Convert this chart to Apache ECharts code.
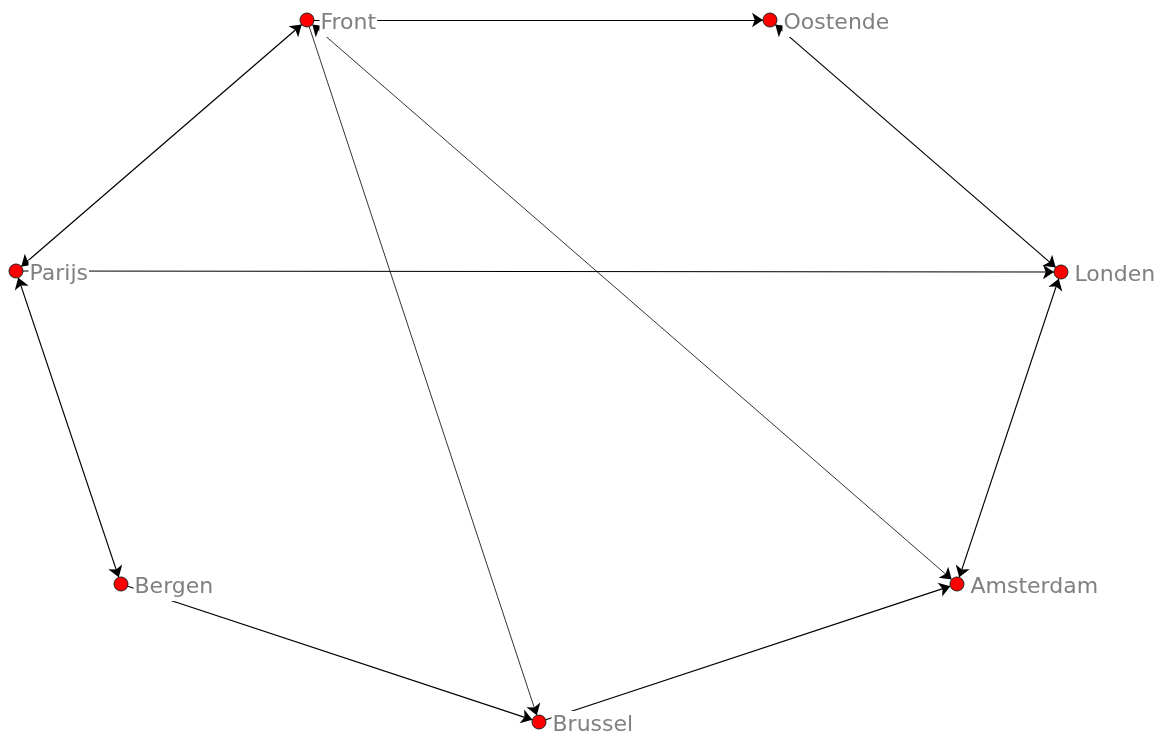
<!DOCTYPE html>
<html>
<head>
<meta charset="utf-8">
<script src="https://cdn.jsdelivr.net/npm/echarts@6/dist/echarts.min.js"></script>
<style>
    html, body { margin: 0; padding: 0; background: #fff; }
    #chartGraph { width: 1160px; height: 738px; }
</style>
</head>
<body>
<div id="chartGraph"></div>
<script>
// 노드
const nodeNames = ['Front', 'Oostende', 'Parijs', 'Londen', 'Bergen', 'Amsterdam', 'Brussel'];
const nodeX = [307, 770, 16, 1061, 121, 957, 539];
const nodeY = [20, 20, 271, 272, 584, 584, 722];

// 연결 (both = 양방향)
const edgeFrom = ['Front', 'Oostende', 'Parijs', 'Parijs', 'Parijs', 'Front', 'Front', 'Londen', 'Bergen', 'Brussel'];
const edgeTo = ['Oostende', 'Londen', 'Front', 'Londen', 'Bergen', 'Brussel', 'Amsterdam', 'Amsterdam', 'Brussel', 'Amsterdam'];
const edgeBoth = [false, true, true, false, true, false, true, true, false, false];
const edgeThin = [false, false, false, false, false, true, true, false, false, false];

const chartDom = document.getElementById('chartGraph');
const graphChart = echarts.init(chartDom);

const nodes = nodeNames.map((name, i) => ({
    name: name,
    value: [nodeX[i], nodeY[i]],
}));

const links = edgeFrom.map((src, i) => ({
    source: src,
    target: edgeTo[i],
    symbol: edgeBoth[i] ? ['arrow', 'arrow'] : ['none', 'arrow'],
    lineStyle: { width: edgeThin[i] ? 0.8 : 1.2 },
}));

let option;
option = {
    animation: false,
    backgroundColor: '#fff',
    grid: { left: 0, right: 0, top: 0, bottom: 0 },
    xAxis: { type: 'value', min: 0, max: 1160, show: false },
    yAxis: { type: 'value', min: 0, max: 738, inverse: true, show: false },
    series: [
        {
            type: 'graph',
            coordinateSystem: 'cartesian2d',
            layout: 'none',
            symbol: 'circle',
            symbolSize: 14,
            edgeSymbolSize: 11,
            itemStyle: {
                color: '#ff0000',
                borderColor: '#222',
                borderWidth: 1,
            },
            label: {
                show: true,
                position: 'right',
                distance: 5,
                offset: [0, 3],
                color: '#808080',
                fontSize: 22,
                fontFamily: 'DejaVu Sans',
                backgroundColor: '#fff',
                padding: [3, 1, 3, 1],
            },
            lineStyle: {
                color: '#000',
                opacity: 1,
                curveness: 0,
            },
            emphasis: { disabled: true },
            data: nodes,
            links: links,
        },
    ],
};

option && graphChart.setOption(option);
</script>
</body>
</html>
